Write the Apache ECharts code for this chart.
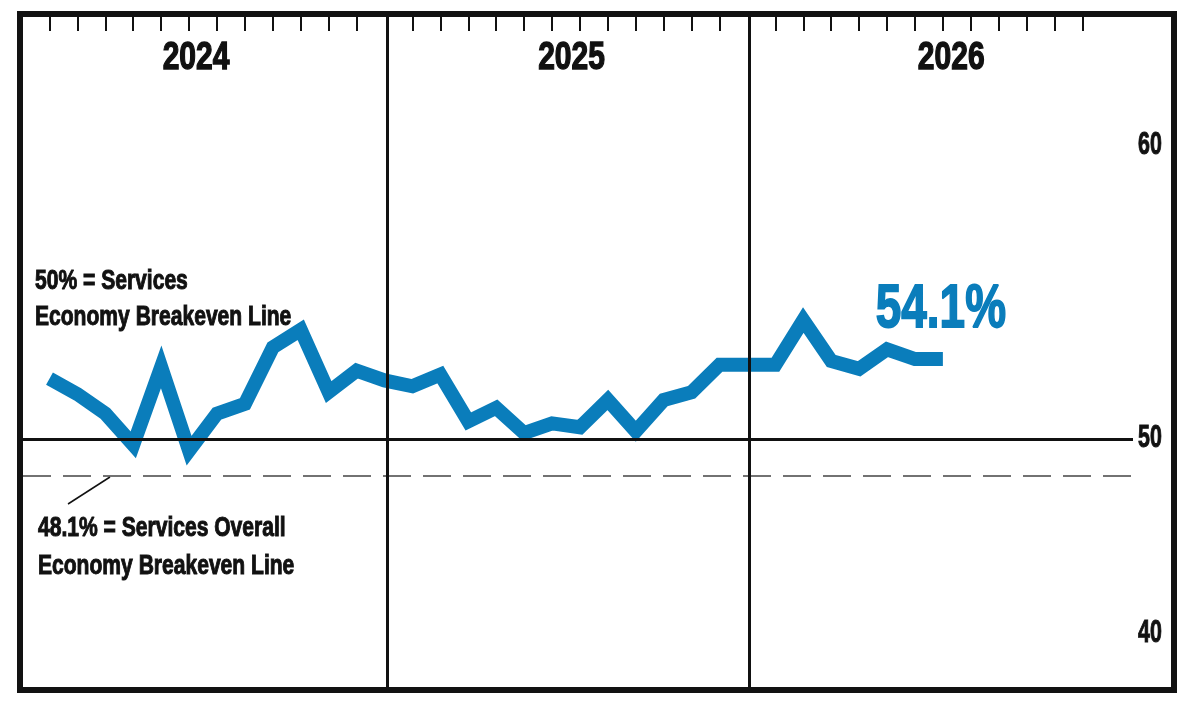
<!DOCTYPE html>
<html>
<head>
<meta charset="utf-8">
<script src="https://cdn.jsdelivr.net/npm/echarts@6/dist/echarts.min.js"></script>
<style>
    html, body { margin: 0; padding: 0; background: #fff; }
    #chart { width: 1194px; height: 714px; }
</style>
</head>
<body>
<div id="chart"></div>
<script>
// monthly index readings
const pmiValues = [
    53.1, 52.3, 51.3, 49.7, 53.7, 49.4, 51.3, 51.8, 54.7, 55.6, 52.4, 53.5,
    53.0, 52.7, 53.3, 50.9, 51.6, 50.3, 50.8, 50.6, 52.0, 50.4, 52.0, 52.4,
    53.8, 53.8, 53.8, 56.1, 54.0, 53.6, 54.6, 54.1, 54.1
];
const yearLabels = ["2024", "2025", "2026"];
const yearCenters = [5.25, 18.7, 32.3];
const dividerPositions = [12.1, 25.05];
const yTickValues = [40, 50, 65];
const yTickLabels = ["40", "50", "60"];
const breakevenServices = 50;
const breakevenOverall = 48.1;

// no condensed face installed, so text is squeezed horizontally
const FONT = "'Liberation Sans', Arial, sans-serif";
const BLUE = "#0a7dbb";
const INK = "#111";

// 12 ticks per year, the 13th slot is the year divider
const monthTicks = [];
yearLabels.forEach((y, yi) => {
    for (let m = 0; m < 12; m++) {
        monthTicks.push(yi * 13 + m);
    }
});

const lineData = pmiValues.map((v, i) => [i, v]);
const last = lineData[lineData.length - 1];

const chart = echarts.init(document.getElementById("chart"));

chart.setOption({
    animation: false,
    grid: { left: 23, right: 61, top: 17, bottom: 27 },
    xAxis: {
        type: "value",
        position: "top",
        min: -0.949,
        max: 38.81,
        axisLine: { show: false },
        splitLine: { show: false },
        axisLabel: { show: false },
        axisTick: {
            show: true,
            inside: true,
            length: 14,
            customValues: monthTicks,
            lineStyle: { color: INK, width: 2 }
        }
    },
    yAxis: {
        type: "value",
        position: "right",
        min: 37.28,
        max: 71.64,
        axisLine: { show: false },
        axisTick: { show: false },
        splitLine: { show: false },
        axisLabel: { show: false }
    },
    series: [
        {
            // reference lines, kept under the data line
            type: "line",
            data: [],
            z: 1,
            silent: true,
            markLine: {
                symbol: "none",
                silent: true,
                label: { show: false },
                data: [
                    { yAxis: breakevenServices, lineStyle: { color: INK, width: 3, type: "solid" } },
                    { yAxis: breakevenOverall, lineStyle: { color: "#444", width: 1.5, type: [28, 12] } }
                ].concat(dividerPositions.map(x => ({
                    xAxis: x,
                    lineStyle: { color: INK, width: 3, type: "solid" }
                })))
            }
        },
        {
            type: "line",
            data: lineData,
            z: 3,
            symbol: "none",
            lineStyle: {
                color: BLUE,
                width: 14,
                join: "miter",
                miterLimit: 10,
                cap: "butt"
            }
        }
    ]
});

function squeezedText(text, x, y, size, scaleX, align, color, weight) {
    return {
        type: "text",
        x: x,
        y: y,
        scaleX: scaleX,
        z: 20,
        style: {
            text: text,
            font: "bold " + size + "px " + FONT,
            fill: color || INK,
            stroke: color || INK,
            lineWidth: weight || 1,
            align: align || "left",
            verticalAlign: "middle"
        }
    };
}

const gridRight = 1194 - 61;
const elements = [
    {
        type: "rect",
        shape: { x: 20, y: 14, width: 1154, height: 676 },
        style: { fill: "none", stroke: INK, lineWidth: 6 },
        z: 10
    },
    {
        type: "line",
        shape: { x1: 68, y1: 504, x2: 110, y2: 477 },
        style: { stroke: INK, lineWidth: 1.5 }
    },
    squeezedText("50% = Services", 35, 282, 27, 0.78),
    squeezedText("Economy Breakeven Line", 35, 318, 27, 0.78),
    squeezedText("48.1% = Services Overall", 38, 529, 27, 0.78),
    squeezedText("Economy Breakeven Line", 38, 567, 27, 0.78)
];

yearLabels.forEach((label, i) => {
    const px = chart.convertToPixel({ xAxisIndex: 0 }, yearCenters[i]);
    elements.push(squeezedText(label, px, 58, 39, 0.77, "center", INK, 1.4));
});

yTickValues.forEach((v, i) => {
    const py = chart.convertToPixel({ yAxisIndex: 0 }, v);
    elements.push(squeezedText(yTickLabels[i], gridRight + 5, py - 1, 31.5, 0.68, "left", INK, 1));
});

const lastPx = chart.convertToPixel({ gridIndex: 0 }, last);
elements.push(squeezedText(last[1].toFixed(1) + "%", lastPx[0] - 2, lastPx[1] - 49, 62, 0.74, "center", BLUE, 1.8));

chart.setOption({ graphic: { elements: elements } });
</script>
</body>
</html>
